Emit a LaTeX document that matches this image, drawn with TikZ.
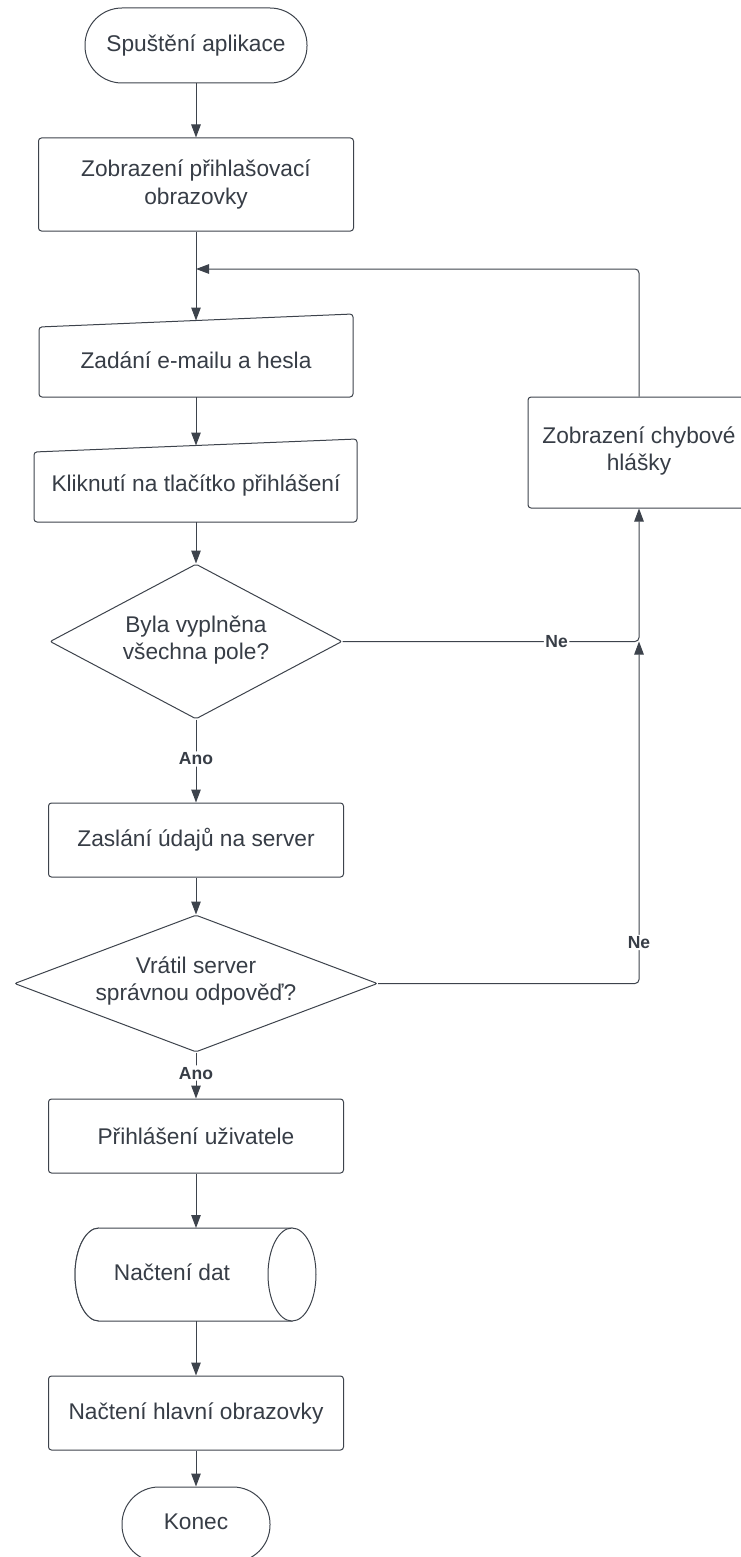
\documentclass[tikz,border=0pt]{standalone}
\usepackage{fontspec}
\setmainfont{Liberation Sans}
\usetikzlibrary{shapes.geometric,arrows.meta}
\definecolor{lc}{HTML}{3D434C}
\definecolor{tc}{HTML}{373D46}
\tikzset{
  outline/.style={draw=lc, line width=1pt, fill=white},
  boxnode/.style={outline, rectangle, rounded corners=3pt, inner sep=0pt},
  termnode/.style={outline, rectangle, rounded corners=37pt, inner sep=0pt},
  dianode/.style={outline, diamond, rounded corners=2pt, inner sep=0pt},
  txt/.style={text=tc, align=center, font=\fontsize{22.7}{27.2}\selectfont, inner sep=0pt},
  lab/.style={text=tc, fill=white, font=\bfseries\fontsize{17.5}{20}\selectfont, inner sep=1.5pt},
  conn/.style={draw=lc, line width=1pt, rounded corners=4pt, -{Triangle[length=13pt,width=9.5pt]}}
}
\begin{document}
\begin{tikzpicture}[x=1pt,y=-1pt]
\useasboundingbox (0,0) rectangle (740,1557);
% terminal start
\node[termnode, minimum width=222pt, minimum height=75pt] (start) at (196,45.5) {};
\node[txt] at (start) {Spuštění aplikace};
% login screen
\node[boxnode, minimum width=315pt, minimum height=93pt] (b2) at (196,184.5) {};
\node[txt] at (b2) {Zobrazení přihlašovací\\obrazovky};
% manual input 1
\draw[outline, rounded corners=3pt] (39,327) -- (353,314) -- (353,397) -- (39,397) -- cycle;
\node[txt] (b3) at (196,360) {Zadání e-mailu a hesla};
\coordinate (in3) at (196,320.5);
\coordinate (out3) at (196,397);
% manual input 2
\draw[outline, rounded corners=3pt] (34,452) -- (357,439) -- (357,522) -- (34,522) -- cycle;
\node[txt] (b4) at (196,485) {Kliknutí na tlačítko přihlášení};
\coordinate (in4) at (196,445.5);
\coordinate (out4) at (196,522);
% decision 1
\node[dianode, minimum width=292pt, minimum height=155pt] (d1) at (196,641.5) {};
\node[txt] at (196,640) {Byla vyplněna\\všechna pole?};
% send to server
\node[boxnode, minimum width=295pt, minimum height=74pt] (b5) at (196,840) {};
\node[txt] at (b5) {Zaslání údajů na server};
% decision 2
\node[dianode, minimum width=363pt, minimum height=137pt] (d2) at (196,983.5) {};
\node[txt] at (196,981) {Vrátil server\\správnou odpověď?};
% login user
\node[boxnode, minimum width=295pt, minimum height=74pt] (b6) at (196,1136) {};
\node[txt] at (b6) {Přihlášení uživatele};
% cylinder
\draw[outline] (99,1228) -- (292,1228) -- (292,1321) -- (99,1321) arc[start angle=270, end angle=90, x radius=24pt, y radius=46.5pt] -- cycle;
\draw[outline] (99,1228) arc[start angle=90, end angle=270, x radius=24pt, y radius=46.5pt];
\draw[outline] (292,1274.5) ellipse[x radius=24pt, y radius=46.5pt];
\node[txt] (cyl) at (172,1272) {Načtení dat};
\coordinate (incyl) at (196,1228);
\coordinate (outcyl) at (196,1321);
% main screen
\node[boxnode, minimum width=295pt, minimum height=74pt] (b7) at (196,1413) {};
\node[txt] at (b7) {Načtení hlavní obrazovky};
% end
\node[termnode, minimum width=148pt, minimum height=75pt] (end) at (196,1524.5) {};
\node[txt] at (196,1522) {Konec};
% error message
\node[boxnode, minimum width=222pt, minimum height=111pt] (err) at (639,452.5) {};
\node[txt] at (639,451) {Zobrazení chybové\\hlášky};
% connectors
\coordinate (loop) at (639,269);
\coordinate (back) at (196,269);
\coordinate (merge) at (639,641.5);
\coordinate (corner2) at (639,983.5);
\draw[conn] (start.south) -- (b2.north);
\draw[conn] (b2.south) -- (in3);
\draw[conn] (err.north) -- (loop) -- (back);
\draw[conn] (out3) -- (in4);
\draw[conn] (out4) -- (d1.north);
\draw[conn] (d1.south) -- node[lab, pos=0.476] {Ano} (b5.north);
\draw[conn] (d1.east) -- node[lab, pos=0.722] {Ne} (merge) -- (err.south);
\draw[conn] (b5.south) -- (d2.north);
\draw[conn] (d2.east) -- (corner2) -- node[lab, pos=0.12] {Ne} (merge);
\draw[conn] (d2.south) -- node[lab, pos=0.447] {Ano} (b6.north);
\draw[conn] (b6.south) -- (incyl);
\draw[conn] (outcyl) -- (b7.north);
\draw[conn] (b7.south) -- (end.north);
\end{tikzpicture}
\end{document}
